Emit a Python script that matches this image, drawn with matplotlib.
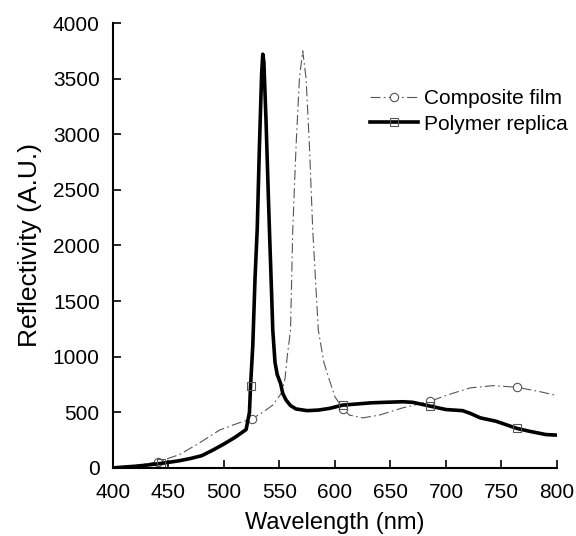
import matplotlib
matplotlib.use("Agg")
import matplotlib.pyplot as plt

plt.rcParams['font.family'] = ['Liberation Sans', 'DejaVu Sans']

# Composite film (thin dash-dot)
comp_wl = [400, 420, 441, 460, 478, 496, 508, 515, 525, 535, 544, 552, 555, 557, 560, 562, 565,
           568, 571, 574, 577, 580, 585, 590, 595, 600, 604, 607, 613, 625, 640, 661, 686,
           701, 722, 743, 764, 785, 800]
comp_val = [0, 20, 55, 120, 225, 340, 385, 410, 440, 500, 565, 675, 800, 1000, 1240, 2140, 2900,
            3500, 3750, 3500, 2900, 2140, 1240, 950, 790, 640, 580, 530, 475, 450, 475, 540, 600,
            655, 720, 740, 725, 685, 650]
comp_marks = [441, 525, 607, 686, 764]

# Polymer replica (thick solid)
poly_wl = [400, 410, 420, 430, 443, 450, 460, 470, 480, 490, 500, 510, 515, 520, 523, 524, 526,
           528, 530, 532, 534, 535, 536, 538, 540, 541, 543, 544, 546, 548, 551, 553, 556, 560,
           565, 575, 585, 595, 607, 620, 632, 645, 661, 670, 686, 700, 715, 722, 731, 745, 764,
           775, 790, 800]
poly_val = [0, 8, 15, 25, 40, 50, 65, 85, 110, 160, 215, 275, 310, 345, 500, 740, 1100,
            1700, 2150, 2900, 3550, 3720, 3650, 3100, 2450, 2140, 1550, 1240, 950, 840, 760, 670, 610, 560,
            530, 515, 520, 535, 565, 575, 585, 590, 595, 590, 555, 525, 515, 490, 450, 420, 355,
            330, 300, 295]
poly_marks = [443, 524, 607, 686, 764]

fig = plt.figure(figsize=(5.76, 5.36), dpi=100)
ax = fig.add_axes([0.196, 0.127, 0.771, 0.830])

ax.plot(comp_wl, comp_val, color='#555555', lw=0.8, linestyle=(0, (9, 3, 1.5, 3)),
        marker='o', markersize=6, markerfacecolor='white', markeredgecolor='#555555',
        markeredgewidth=0.8,
        markevery=[i for i, w in enumerate(comp_wl) if w in comp_marks],
        label='Composite film')
ax.plot(poly_wl, poly_val, color='black', lw=2.6, solid_joinstyle='round',
        marker='s', markersize=6, markerfacecolor='none', markeredgecolor='#555555',
        markeredgewidth=0.8,
        markevery=[i for i, w in enumerate(poly_wl) if w in poly_marks],
        label='Polymer replica')

ax.set_xlim(400, 800)
ax.set_ylim(0, 4000)
ax.set_xticks(range(400, 801, 50))
ax.set_yticks(range(0, 4001, 500))
ax.tick_params(direction='in', length=6, width=1.2, labelsize=15)
ax.tick_params(axis='x', pad=11)
ax.tick_params(axis='y', pad=9.5)
for s in ['top', 'right']:
    ax.spines[s].set_visible(False)
for s in ['left', 'bottom']:
    ax.spines[s].set_linewidth(1.5)
ax.set_xlabel('Wavelength (nm)', fontsize=17, labelpad=7)
ax.set_ylabel('Reflectivity (A.U.)', fontsize=19, labelpad=8)

ax.legend(loc='upper left', bbox_to_anchor=(0.579, 0.851), frameon=False, fontsize=15,
          handlelength=2.3, handletextpad=0.3, labelspacing=0.3,
          borderpad=0, borderaxespad=0)

fig.savefig('out.png', dpi=100)
